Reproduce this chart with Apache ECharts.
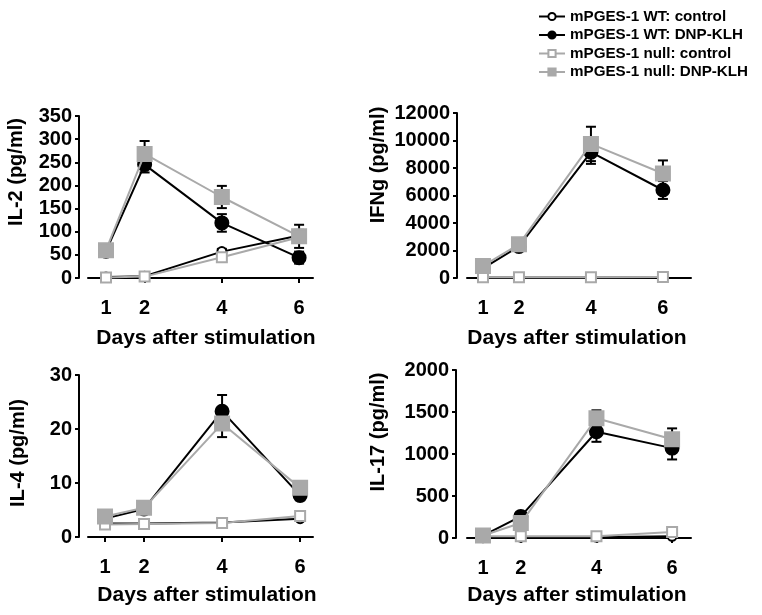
<!DOCTYPE html>
<html><head><meta charset="utf-8">
<script src="https://cdn.jsdelivr.net/npm/echarts@6/dist/echarts.min.js"></script>
<style>html,body{margin:0;padding:0;background:#fff}#c{width:762px;height:615px}</style>
</head><body><div id="c"></div>
<script>
// ---------- data ----------
const days = [1, 2, 4, 6];
const seriesNames = ['mPGES-1 WT: control', 'mPGES-1 WT: DNP-KLH', 'mPGES-1 null: control', 'mPGES-1 null: DNP-KLH'];
const yTitles = ['IL-2 (pg/ml)', 'IFNg (pg/ml)', 'IL-4 (pg/ml)', 'IL-17 (pg/ml)'];
const xTitle = 'Days after stimulation';
const yMax = [350, 12000, 30, 2000];
const yStep = [50, 2000, 10, 500];

// IL-2
const il2WtCtrl = [2, 4, 57, 92];        const il2WtCtrlErr = [2, 2, 6, 12];
const il2WtDnp = [58, 245, 119, 44];      const il2WtDnpErr = [5, 17, 19, 13];
const il2NullCtrl = [1, 3, 45, 88];       const il2NullCtrlErr = [2, 2, 6, 10];
const il2NullDnp = [60, 268, 175, 90];    const il2NullDnpErr = [4, 28, 24, 25];
// IFNg
const ifnWtCtrl = [30, 30, 30, 60];       const ifnWtCtrlErr = [20, 20, 20, 40];
const ifnWtDnp = [700, 2300, 9150, 6400]; const ifnWtDnpErr = [150, 300, 850, 650];
const ifnNullCtrl = [50, 50, 50, 80];     const ifnNullCtrlErr = [20, 20, 20, 40];
const ifnNullDnp = [880, 2450, 9750, 7600]; const ifnNullDnpErr = [150, 300, 1250, 950];
// IL-4
const il4WtCtrl = [2.5, 2.5, 2.7, 3.4];   const il4WtCtrlErr = [0.2, 0.2, 0.3, 0.4];
const il4WtDnp = [3.4, 5.2, 23.3, 7.7];   const il4WtDnpErr = [0.3, 0.3, 3.0, 0.9];
const il4NullCtrl = [2.3, 2.4, 2.6, 3.9]; const il4NullCtrlErr = [0.2, 0.2, 0.3, 0.3];
const il4NullDnp = [3.8, 5.4, 21.0, 9.1]; const il4NullDnpErr = [0.3, 0.3, 2.5, 0.5];
// IL-17
const il17WtCtrl = [10, 10, 10, 20];      const il17WtCtrlErr = [5, 5, 5, 10];
const il17WtDnp = [28, 257, 1265, 1070];  const il17WtDnpErr = [10, 30, 120, 135];
const il17NullCtrl = [20, 20, 20, 70];    const il17NullCtrlErr = [5, 5, 5, 15];
const il17NullDnp = [30, 178, 1425, 1175]; const il17NullDnpErr = [10, 30, 95, 130];

const panelData = [
  [[il2WtCtrl, il2WtCtrlErr], [il2WtDnp, il2WtDnpErr], [il2NullCtrl, il2NullCtrlErr], [il2NullDnp, il2NullDnpErr]],
  [[ifnWtCtrl, ifnWtCtrlErr], [ifnWtDnp, ifnWtDnpErr], [ifnNullCtrl, ifnNullCtrlErr], [ifnNullDnp, ifnNullDnpErr]],
  [[il4WtCtrl, il4WtCtrlErr], [il4WtDnp, il4WtDnpErr], [il4NullCtrl, il4NullCtrlErr], [il4NullDnp, il4NullDnpErr]],
  [[il17WtCtrl, il17WtCtrlErr], [il17WtDnp, il17WtDnpErr], [il17NullCtrl, il17NullCtrlErr], [il17NullDnp, il17NullDnpErr]]
];

// ---------- layout / style ----------
const FONT = '"Liberation Sans", Arial, sans-serif';
const BLACK = '#000000', GRAY = '#a9a9a9';
const layout = [
  {left: 88, top: 116, width: 225, height: 162, xmin: 0.534, xmax: 6.36, off: 9, yt: [16, 172], xt: [206, 338]},
  {left: 467, top: 113, width: 224, height: 165, xmin: 0.556, xmax: 6.78, off: 10, yt: [378, 165], xt: [577, 338]},
  {left: 88, top: 375, width: 225, height: 162, xmin: 0.564, xmax: 6.33, off: 9, yt: [18, 453], xt: [207, 595]},
  {left: 467, top: 370, width: 224, height: 168, xmin: 0.577, xmax: 6.50, off: 11, yt: [378, 432], xt: [577, 595]}
];
const styles = [
  {color: BLACK, fill: '#ffffff', symbol: 'circle', size: 9, z: 3},
  {color: BLACK, fill: BLACK, symbol: 'circle', size: 13, z: 4},
  {color: GRAY, fill: '#ffffff', symbol: 'rect', size: 10, z: 5},
  {color: GRAY, fill: GRAY, symbol: 'rect', size: 14, z: 6}
];

const grids = [], xAxes = [], yAxes = [], series = [], graphics = [];
layout.forEach((L, gi) => {
  grids.push({left: L.left, top: L.top, width: L.width, height: L.height, containLabel: false});
  xAxes.push({
    type: 'value', gridIndex: gi, min: L.xmin, max: L.xmax,
    axisLine: {show: true, onZero: false, lineStyle: {color: BLACK, width: 2}},
    axisTick: {show: true, customValues: days, length: 5, lineStyle: {color: BLACK, width: 2}},
    axisLabel: {show: true, customValues: days, margin: 20, color: BLACK, fontFamily: FONT, fontWeight: 'bold', fontSize: 20},
    splitLine: {show: false}
  });
  yAxes.push({
    type: 'value', gridIndex: gi, min: 0, max: yMax[gi], interval: yStep[gi], offset: L.off,
    axisLine: {show: true, lineStyle: {color: BLACK, width: 2}},
    axisTick: {show: true, length: 4, lineStyle: {color: BLACK, width: 2}},
    axisLabel: {margin: 7, color: BLACK, fontFamily: FONT, fontWeight: 'bold', fontSize: 20,
      formatter: v => String(v)},
    splitLine: {show: false}
  });
  panelData[gi].forEach((pair, si) => {
    const [vals, errs] = pair;
    const s = styles[si];
    series.push({
      type: 'custom', xAxisIndex: gi, yAxisIndex: gi, z: 2, silent: true, animation: false,
      data: days.map((d, i) => [d, vals[i], errs[i]]),
      renderItem: (params, api) => {
        const x = api.value(0), y = api.value(1), e = api.value(2);
        const hi = api.coord([x, y + e]), lo = api.coord([x, Math.max(y - e, 0)]);
        const w = 5, st = {stroke: BLACK, lineWidth: 2};
        return {type: 'group', children: [
          {type: 'line', shape: {x1: hi[0], y1: hi[1], x2: lo[0], y2: lo[1]}, style: st},
          {type: 'line', shape: {x1: hi[0] - w, y1: hi[1], x2: hi[0] + w, y2: hi[1]}, style: st},
          {type: 'line', shape: {x1: lo[0] - w, y1: lo[1], x2: lo[0] + w, y2: lo[1]}, style: st}
        ]};
      }
    });
    series.push({
      type: 'line', name: seriesNames[si], xAxisIndex: gi, yAxisIndex: gi, z: s.z,
      data: days.map((d, i) => [d, vals[i]]),
      symbol: s.symbol, symbolSize: s.size, showAllSymbol: true, clip: false,
      lineStyle: {color: s.color, width: 2},
      itemStyle: {color: s.fill, borderColor: s.color, borderWidth: 2},
      emphasis: {disabled: true}, animation: false
    });
  });
  graphics.push({
    type: 'text', x: L.yt[0], y: L.yt[1], rotation: Math.PI / 2,
    style: {text: yTitles[gi], fill: BLACK, font: 'bold 20px ' + FONT, align: 'center', verticalAlign: 'middle'}
  });
  graphics.push({
    type: 'text', x: L.xt[0], y: L.xt[1],
    style: {text: xTitle, fill: BLACK, font: 'bold 21px ' + FONT, align: 'center', verticalAlign: 'middle'}
  });
});

const chart = echarts.init(document.getElementById('c'), null, {renderer: 'canvas'});
chart.setOption({
  animation: false,
  backgroundColor: '#ffffff',
  grid: grids, xAxis: xAxes, yAxis: yAxes, series: series, graphic: graphics,
  legend: {
    data: seriesNames, orient: 'vertical', left: 533, top: 4,
    itemWidth: 26, itemHeight: 9, itemGap: 3.5,
    textStyle: {color: BLACK, fontFamily: FONT, fontWeight: 'bold', fontSize: 15.2},
    selectedMode: false
  }
});
</script>
</body></html>
